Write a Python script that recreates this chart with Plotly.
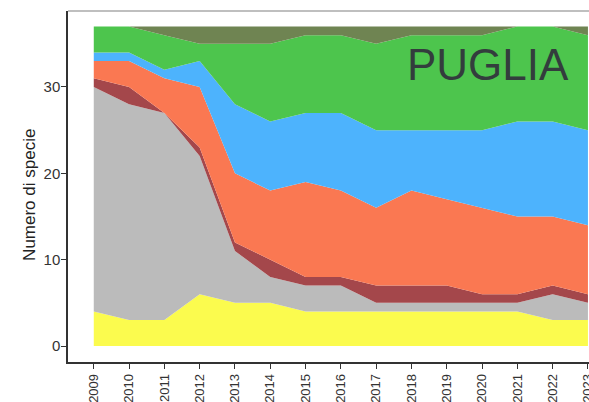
import plotly.graph_objects as go

# anni e numero di specie per gruppo
years = list(range(2009, 2024))
yellow = [4, 3, 3, 6, 5, 5, 4, 4, 4, 4, 4, 4, 4, 3, 3]
gray = [26, 25, 24, 16, 6, 3, 3, 3, 1, 1, 1, 1, 1, 3, 2]
darkred = [1, 2, 0, 1, 1, 2, 1, 1, 2, 2, 2, 1, 1, 1, 1]
orange = [2, 3, 4, 7, 8, 8, 11, 10, 9, 11, 10, 10, 9, 8, 8]
blue = [1, 1, 1, 3, 8, 8, 8, 9, 9, 7, 8, 9, 11, 11, 11]
green = [3, 3, 4, 2, 7, 9, 9, 9, 10, 11, 11, 11, 11, 11, 11]
olive = [0, 0, 1, 2, 2, 2, 1, 1, 2, 1, 1, 1, 0, 0, 1]

layers = [
    ("gruppo 1", yellow, "#FBFB4E"),
    ("gruppo 2", gray, "#BBBBBB"),
    ("gruppo 3", darkred, "#A4474B"),
    ("gruppo 4", orange, "#FA7852"),
    ("gruppo 5", blue, "#4DB3FD"),
    ("gruppo 6", green, "#4DC54D"),
    ("gruppo 7", olive, "#6F8452"),
]

fig = go.Figure()
for name, vals, col in layers:
    fig.add_trace(go.Scatter(x=years, y=vals, name=name, mode="lines",
                             stackgroup="one", line=dict(width=0, color=col),
                             fillcolor=col, hoverinfo="x+y+name"))

fig.add_annotation(text="PUGLIA", x=0.806, y=0.849, xref="paper", yref="paper",
                   xanchor="center", yanchor="middle", showarrow=False,
                   font=dict(family="Liberation Sans", size=44, color="#333d3d"))

# titolo asse y
fig.add_annotation(text="Numero di specie", x=-0.073, y=0.476, xref="paper", yref="paper",
                   xanchor="center", yanchor="middle", textangle=-90, showarrow=False,
                   font=dict(family="Liberation Sans", size=17, color="#222"))

# linea superiore della cornice
fig.add_shape(type="line", xref="paper", yref="paper", x0=0, x1=1, y0=1, y1=1,
              line=dict(color="#aaaaaa", width=1.5))

fig.update_layout(
    width=589, height=402,
    margin=dict(l=68, r=0, t=11, b=40),
    paper_bgcolor="white", plot_bgcolor="white",
    showlegend=False,
    font=dict(family="Liberation Sans", color="#333333"),
    xaxis=dict(range=[2008.27, 2023.03], tickmode="array", tickvals=years,
               ticktext=[str(y) for y in years], tickangle=-90,
               tickfont=dict(size=13), ticks="outside", ticklen=5, tickcolor="#333",
               showline=True, linecolor="#333", linewidth=1.5, showgrid=False,
               zeroline=False, automargin=False, ticklabeloverflow="allow"),
    yaxis=dict(range=[-1.85, 38.8], tickvals=[0, 10, 20, 30], tickfont=dict(size=15),
               ticks="outside", ticklen=5, tickcolor="#333", ticklabelstandoff=-2,
               showline=True, linecolor="#333", linewidth=1.5, showgrid=False,
               zeroline=False, automargin=False),
)

fig.write_html("out.html", config={"displayModeBar": False},
               post_script="document.body.style.margin='0';")
